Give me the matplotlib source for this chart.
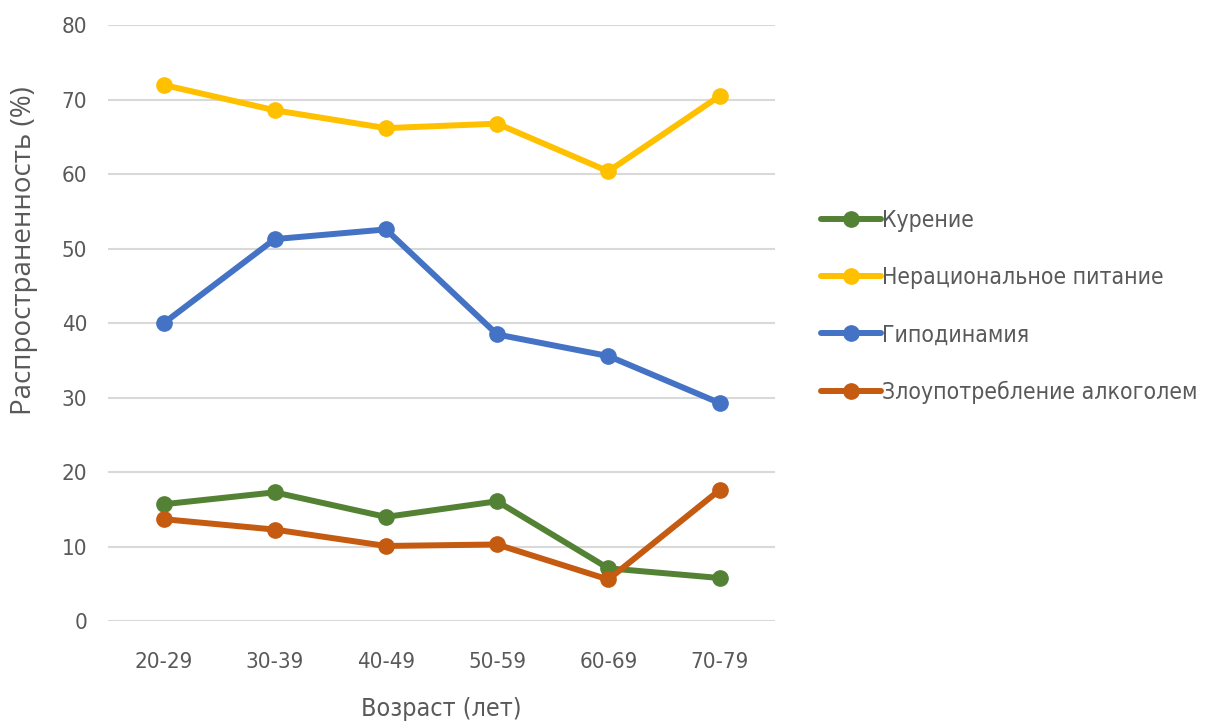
import matplotlib
matplotlib.use("Agg")
import matplotlib.pyplot as plt

ages = ["20-29", "30-39", "40-49", "50-59", "60-69", "70-79"]
smoking = [15.7, 17.3, 14.0, 16.1, 7.1, 5.8]
diet = [72.0, 68.6, 66.2, 66.8, 60.4, 70.5]
inactivity = [40.0, 51.3, 52.6, 38.5, 35.6, 29.3]
alcohol = [13.7, 12.3, 10.1, 10.3, 5.6, 17.6]

series = [
    ("Курение", smoking, "#548235"),
    ("Нерациональное питание", diet, "#ffc000"),
    ("Гиподинамия", inactivity, "#4472c4"),
    ("Злоупотребление алкоголем", alcohol, "#c55a11"),
]

plt.rcParams["font.family"] = ["DejaVu Sans"]
plt.rcParams["font.stretch"] = "condensed"
txt = "#595959"

fig = plt.figure(figsize=(12.13, 7.24), dpi=100)
ax = fig.add_axes([0.089, 0.142, 0.55, 0.823])

x = list(range(len(ages)))
for name, vals, col in series:
    ax.plot(x, vals, color=col, lw=4.3, marker="o", ms=11, label=name,
            solid_capstyle="round")

ax.set_xlim(-0.5, len(ages) - 0.5)
ax.set_ylim(0, 80)
ax.set_yticks(range(0, 81, 10))
ax.set_xticks(x)
ax.set_xticklabels(ages)
ax.grid(axis="y", color="#d9d9d9", lw=1.5)
ax.set_axisbelow(True)
for s in ax.spines.values():
    s.set_visible(False)
ax.tick_params(length=0, labelsize=16, colors=txt, pad=22)
ax.tick_params(axis="y", pad=15)
ax.set_xlabel("Возраст (лет)", fontsize=18, color=txt, labelpad=18)
ax.set_ylabel("Распространенность (%)", fontsize=20, color=txt,
              family=["Open Sans", "DejaVu Sans"], fontstretch="normal")
ax.yaxis.set_label_coords(-0.105, 0.622)

fig.legend(loc="center left", bbox_to_anchor=(0.66, 0.577), frameon=False,
           fontsize=16.5, labelcolor=txt, handlelength=2.6, handletextpad=0.05,
           labelspacing=1.5)

fig.savefig("out.png", dpi=100)
